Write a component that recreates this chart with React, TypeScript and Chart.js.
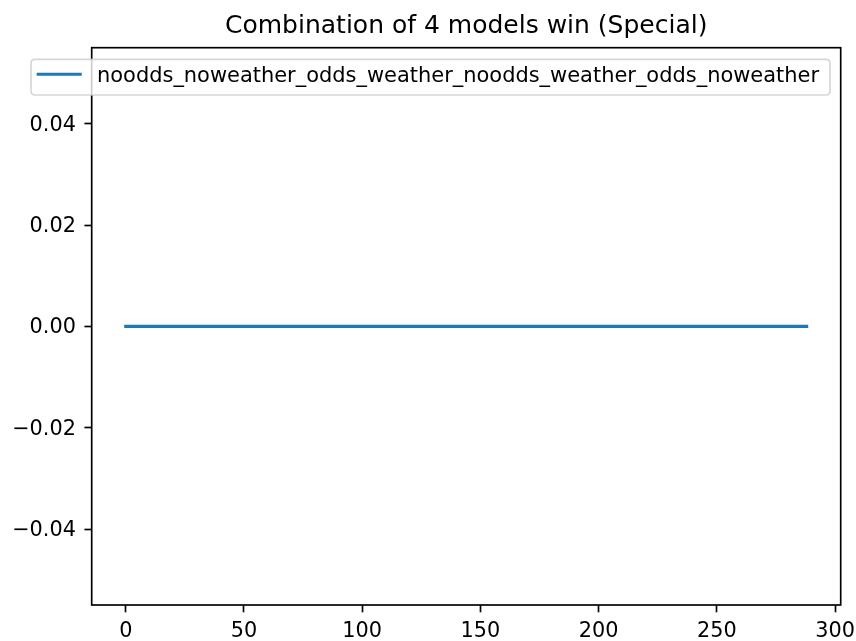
import React, { useEffect, useRef } from "react";
import { Chart, registerables } from "chart.js";

Chart.register(...registerables);

// Series: win indicator of the four-model combination, per match index
const seriesLabel = "noodds_noweather_odds_weather_noodds_weather_odds_noweather";
const winValues: number[] = [
  0, 0, 0, 0, 0, 0, 0, 0, 0, 0, 0, 0, 0, 0, 0, 0, 0,
  0, 0, 0, 0, 0, 0, 0, 0, 0, 0, 0, 0, 0, 0, 0, 0, 0,
  0, 0, 0, 0, 0, 0, 0, 0, 0, 0, 0, 0, 0, 0, 0, 0, 0,
  0, 0, 0, 0, 0, 0, 0, 0, 0, 0, 0, 0, 0, 0, 0, 0, 0,
  0, 0, 0, 0, 0, 0, 0, 0, 0, 0, 0, 0, 0, 0, 0, 0, 0,
  0, 0, 0, 0, 0, 0, 0, 0, 0, 0, 0, 0, 0, 0, 0, 0, 0,
  0, 0, 0, 0, 0, 0, 0, 0, 0, 0, 0, 0, 0, 0, 0, 0, 0,
  0, 0, 0, 0, 0, 0, 0, 0, 0, 0, 0, 0, 0, 0, 0, 0, 0,
  0, 0, 0, 0, 0, 0, 0, 0, 0, 0, 0, 0, 0, 0, 0, 0, 0,
  0, 0, 0, 0, 0, 0, 0, 0, 0, 0, 0, 0, 0, 0, 0, 0, 0,
  0, 0, 0, 0, 0, 0, 0, 0, 0, 0, 0, 0, 0, 0, 0, 0, 0,
  0, 0, 0, 0, 0, 0, 0, 0, 0, 0, 0, 0, 0, 0, 0, 0, 0,
  0, 0, 0, 0, 0, 0, 0, 0, 0, 0, 0, 0, 0, 0, 0, 0, 0,
  0, 0, 0, 0, 0, 0, 0, 0, 0, 0, 0, 0, 0, 0, 0, 0, 0,
  0, 0, 0, 0, 0, 0, 0, 0, 0, 0, 0, 0, 0, 0, 0, 0, 0,
  0, 0, 0, 0, 0, 0, 0, 0, 0, 0, 0, 0, 0, 0, 0, 0, 0,
  0, 0, 0, 0, 0, 0, 0, 0, 0, 0, 0, 0, 0, 0, 0, 0, 0,
];

const titleText = "Combination of 4 models win (Special)";
const xTicks = [0, 50, 100, 150, 200, 250, 300];
const yTicks = [-0.04, -0.02, 0.0, 0.02, 0.04];
const xRange = [-14.4, 302.4];
const yRange = [-0.055, 0.055];

const FONT = "'DejaVu Sans', sans-serif";
const LINE_COLOR = "#1f77b4";
const W = 856;
const H = 641;
const AREA = { left: 91.7, right: 840.7, top: 47.7, bottom: 605 };

const fmtY = (v: number) => {
  const s = Math.abs(v).toFixed(2);
  return v < -1e-9 ? "\u2212" + s : s;
};

const framePlugin = {
  id: "frameAndLegend",
  afterDraw(chart: any) {
    const { ctx, chartArea } = chart;
    ctx.save();
    // axes frame
    ctx.strokeStyle = "#000";
    ctx.lineWidth = 1.67;
    ctx.strokeRect(
      chartArea.left,
      chartArea.top,
      chartArea.right - chartArea.left,
      chartArea.bottom - chartArea.top
    );

    // title
    ctx.fillStyle = "#000";
    ctx.font = `25px ${FONT}`;
    ctx.textAlign = "center";
    ctx.textBaseline = "alphabetic";
    ctx.fillText(titleText, (chartArea.left + chartArea.right) / 2, 33.3);

    // legend box
    const bx = 31, by = 59.3, bw = 799, bh = 35.7, r = 4;
    ctx.beginPath();
    ctx.moveTo(bx + r, by);
    ctx.lineTo(bx + bw - r, by);
    ctx.quadraticCurveTo(bx + bw, by, bx + bw, by + r);
    ctx.lineTo(bx + bw, by + bh - r);
    ctx.quadraticCurveTo(bx + bw, by + bh, bx + bw - r, by + bh);
    ctx.lineTo(bx + r, by + bh);
    ctx.quadraticCurveTo(bx, by + bh, bx, by + bh - r);
    ctx.lineTo(bx, by + r);
    ctx.quadraticCurveTo(bx, by, bx + r, by);
    ctx.closePath();
    ctx.fillStyle = "rgba(255,255,255,0.8)";
    ctx.fill();
    ctx.strokeStyle = "rgba(204,204,204,0.8)";
    ctx.lineWidth = 1.67;
    ctx.stroke();

    const ds = chart.data.datasets[0];
    ctx.beginPath();
    ctx.moveTo(38.2, 74.3);
    ctx.lineTo(80.2, 74.3);
    ctx.strokeStyle = ds.borderColor;
    ctx.lineWidth = ds.borderWidth;
    ctx.lineCap = "square";
    ctx.stroke();

    ctx.fillStyle = "#000";
    ctx.font = `20.95px ${FONT}`;
    ctx.textAlign = "left";
    ctx.textBaseline = "alphabetic";
    ctx.fillText(ds.label, 97, 81.7);
    ctx.restore();
  },
};

export default function App() {
  const ref = useRef<HTMLCanvasElement | null>(null);

  useEffect(() => {
    if (!ref.current) return;
    const points = winValues.map((v, i) => ({ x: i, y: v }));
    const chart = new Chart(ref.current, {
      type: "line",
      data: {
        datasets: [
          {
            label: seriesLabel,
            data: points,
            borderColor: LINE_COLOR,
            backgroundColor: LINE_COLOR,
            borderWidth: 3.1,
            borderCapStyle: "square",
            pointRadius: 0,
            tension: 0,
            fill: false,
          },
        ],
      },
      options: {
        responsive: false,
        animation: false,
        devicePixelRatio: 1,
        layout: {
          padding: { left: 0, top: AREA.top, right: W - AREA.right, bottom: 0 },
        },
        plugins: {
          legend: { display: false },
          title: { display: false },
          tooltip: { enabled: false },
        },
        scales: {
          x: {
            type: "linear",
            min: xRange[0],
            max: xRange[1],
            afterBuildTicks: (s: any) => {
              s.ticks = xTicks.map((v) => ({ value: v }));
            },
            afterFit: (s: any) => {
              s.height = H - AREA.bottom;
              s.paddingLeft = 0;
              s.paddingRight = 0;
            },
            border: { display: false },
            grid: {
              drawOnChartArea: false,
              drawTicks: true,
              tickLength: 7.3,
              tickWidth: 1.67,
              tickColor: "#000",
            },
            ticks: {
              color: "#000",
              padding: 6.5,
              maxRotation: 0,
              autoSkip: false,
              font: { family: FONT, size: 20.8 },
              callback: (v: any) => String(v),
            },
          },
          y: {
            type: "linear",
            min: yRange[0],
            max: yRange[1],
            afterBuildTicks: (s: any) => {
              s.ticks = yTicks.map((v) => ({ value: v }));
            },
            afterFit: (s: any) => {
              s.width = AREA.left;
              s.paddingTop = 0;
              s.paddingBottom = 0;
            },
            border: { display: false },
            grid: {
              drawOnChartArea: false,
              drawTicks: true,
              tickLength: 7.3,
              tickWidth: 1.67,
              tickColor: "#000",
            },
            ticks: {
              color: "#000",
              padding: 8.5,
              labelOffset: 1.5,
              autoSkip: false,
              font: { family: FONT, size: 20.8 },
              callback: (v: any) => fmtY(Number(v)),
            },
          },
        },
      },
      plugins: [framePlugin],
    } as any);
    return () => chart.destroy();
  }, []);

  return (
    <div style={{ position: "absolute", left: 0, top: 0, width: W, height: H, background: "#fff" }}>
      <canvas ref={ref} width={W} height={H} style={{ display: "block", width: W, height: H }} />
    </div>
  );
}
